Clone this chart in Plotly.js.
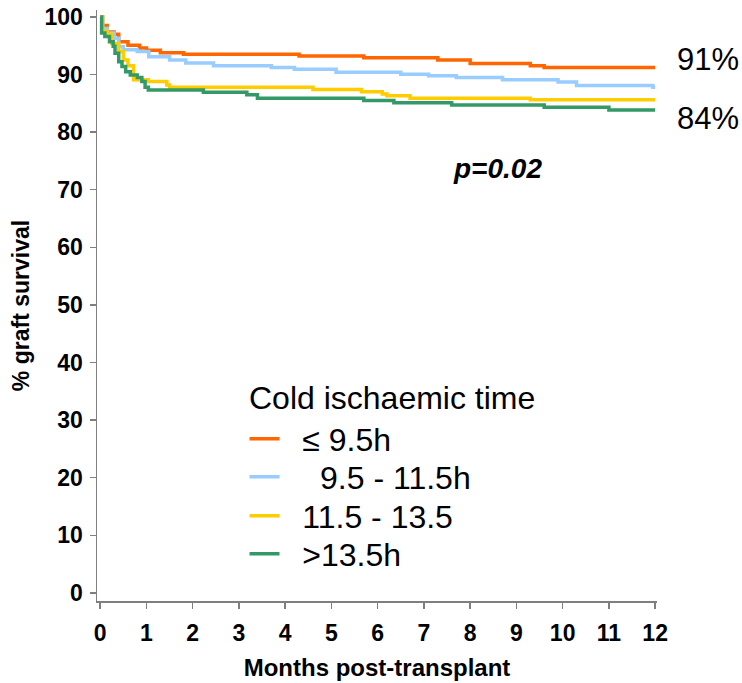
<!DOCTYPE html>
<html>
<head>
<meta charset="utf-8">
<script src="https://cdn.plot.ly/plotly-3.0.1.min.js"></script>
<style>html,body{margin:0;padding:0;background:#fff;}#chart{width:742px;height:683px;}</style>
</head>
<body>
<div id="chart"></div>
<script>
// Months post-transplant and % graft survival for each cold ischaemic time group
var legendTitle = "Cold ischaemic time";
var seriesNames = ["\u2264 9.5h", "\u00a0\u00a09.5 - 11.5h", "11.5 - 13.5", ">13.5h"];

var monthsA = [0, 0.05, 0.15, 0.3, 0.4, 0.6, 0.85, 1.0, 1.3, 1.8, 4.3, 5.7, 7.3, 8.0, 9.3, 9.6, 12.0];
var survivalA = [100, 98.5, 97.4, 97.0, 95.7, 95.1, 94.6, 94.2, 93.8, 93.5, 93.2, 92.9, 92.5, 91.9, 91.5, 91.2, 91.2];

var monthsB = [0, 0.05, 0.15, 0.3, 0.4, 0.5, 0.8, 1.05, 1.5, 1.85, 2.45, 3.7, 4.2, 5.1, 6.5, 7.1, 7.7, 8.7, 9.9, 10.3, 11.95, 12.0];
var survivalB = [100, 98.0, 97.2, 96.3, 94.8, 94.3, 94.0, 93.1, 92.5, 92.0, 91.5, 91.2, 90.9, 90.4, 90.05, 89.8, 89.5, 89.1, 88.7, 88.1, 87.8, 87.8];

var monthsC = [0, 0.05, 0.15, 0.25, 0.4, 0.5, 0.6, 0.72, 1.04, 1.44, 1.5, 4.6, 5.65, 6.1, 6.2, 6.7, 9.3, 12.0];
var survivalC = [100, 97.5, 97.0, 95.4, 94.0, 92.5, 91.5, 89.1, 88.8, 88.2, 87.8, 87.4, 87.0, 86.6, 86.3, 85.9, 85.6, 85.6];

var monthsD = [0, 0.03, 0.1, 0.2, 0.28, 0.32, 0.4, 0.47, 0.55, 0.65, 0.8, 0.9, 0.97, 1.04, 2.23, 3.17, 3.4, 5.7, 6.35, 7.6, 9.6, 11.0, 12.0];
var survivalD = [100, 97.2, 96.6, 95.7, 94.9, 93.7, 92.2, 91.4, 90.5, 89.9, 89.5, 88.8, 87.8, 87.3, 86.9, 86.5, 85.9, 85.5, 85.1, 84.7, 84.3, 83.85, 83.85];

var xTicks = [0,1,2,3,4,5,6,7,8,9,10,11,12];
var yTicks = [0,10,20,30,40,50,60,70,80,90,100];

var colors = ["#FF6600", "#99CCFF", "#FFCC00", "#339966"];
var FONT = "Liberation Sans, Arial, Helvetica, sans-serif";
var GAP = "\u00a0\u00a0";

var xs = [monthsA, monthsB, monthsC, monthsD];
var ys = [survivalA, survivalB, survivalC, survivalD];
var legendIds = ["legend", "legend2", "legend3", "legend4"];
var legendY = [0.2741, 0.2098, 0.1438, 0.0795];
var traces = [];
for (var i = 0; i < 4; i++) {
  traces.push({
    x: xs[i], y: ys[i], type: "scatter", mode: "lines",
    line: {shape: "hv", color: colors[i], width: 3.5},
    name: GAP + seriesNames[i], legend: legendIds[i], hoverinfo: "skip"
  });
}

var layout = {
  width: 742, height: 683,
  margin: {l: 97, r: 85, t: 10, b: 82},
  paper_bgcolor: "#ffffff", plot_bgcolor: "#ffffff",
  showlegend: true,
  xaxis: {
    range: [-0.07, 12.04], tickvals: xTicks, ticktext: xTicks.map(String),
    showgrid: false, zeroline: false, showline: true, linecolor: "#7f7f7f", linewidth: 1.5,
    ticks: "outside", ticklen: 6, tickcolor: "#7f7f7f", tickwidth: 1.5,
    tickfont: {family: FONT, size: 23, color: "#000", weight: "bold"},
    ticklabelstandoff: 5,
    title: {text: "<b>Months post-transplant</b>", font: {family: FONT, size: 24, color: "#000"}, standoff: 14},
    automargin: false
  },
  yaxis: {
    range: [-1.4, 101.2], tickvals: yTicks, ticktext: yTicks.map(String),
    showgrid: false, zeroline: false, showline: true, linecolor: "#7f7f7f", linewidth: 1.5,
    ticks: "outside", ticklen: 6, tickcolor: "#7f7f7f", tickwidth: 1.5,
    tickfont: {family: FONT, size: 23, color: "#000", weight: "bold"},
    ticklabelstandoff: 2,
    title: {text: "<b>% graft survival</b>", font: {family: FONT, size: 23, color: "#000"}, standoff: 8},
    automargin: false
  },
  annotations: [
    {text: legendTitle, xref: "paper", yref: "paper", x: 0.2670, y: 0.3435, xanchor: "left", yanchor: "middle",
     showarrow: false, font: {family: FONT, size: 32, color: "#000"}},
    {text: "91%", xref: "paper", yref: "paper", x: 1.032, y: 0.9154, xanchor: "left", yanchor: "middle",
     showarrow: false, font: {family: FONT, size: 31, color: "#000"}},
    {text: "84%", xref: "paper", yref: "paper", x: 1.032, y: 0.8164, xanchor: "left", yanchor: "middle",
     showarrow: false, font: {family: FONT, size: 31, color: "#000"}},
    {text: "<b><i>p=0.02</i></b>", xref: "paper", yref: "paper", x: 0.632, y: 0.731, xanchor: "left", yanchor: "middle",
     showarrow: false, font: {family: FONT, size: 28, color: "#000"}}
  ]
};
for (var j = 0; j < 4; j++) {
  layout[legendIds[j]] = {
    x: 0.2634, y: legendY[j], xanchor: "left", yanchor: "middle",
    bgcolor: "rgba(0,0,0,0)", borderwidth: 0, itemwidth: 30,
    font: {family: FONT, size: 32, color: "#000"}
  };
}

Plotly.newPlot("chart", traces, layout, {displayModeBar: false, staticPlot: true});
</script>
</body>
</html>
